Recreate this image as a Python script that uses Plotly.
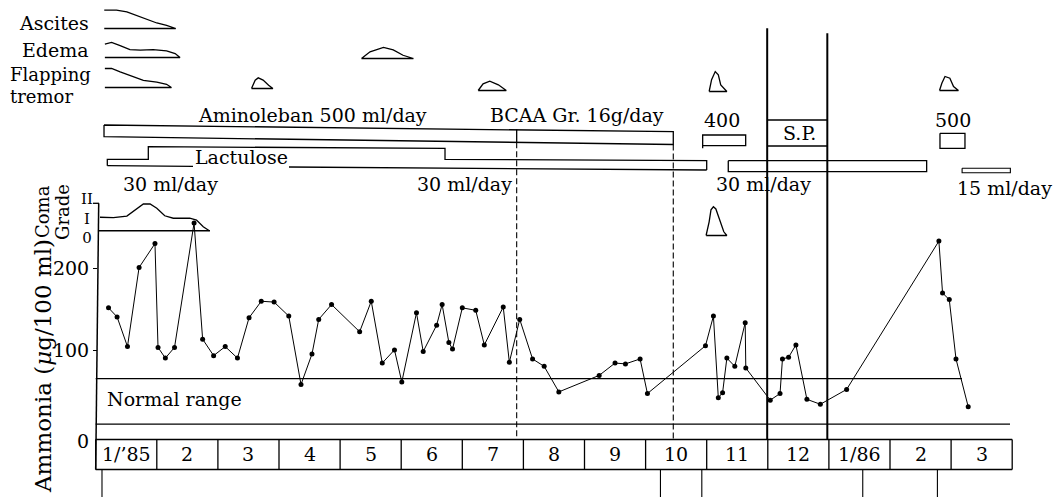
import plotly.graph_objects as go

# ---------------- data ----------------
month_labels = ["1/’85", "2", "3", "4", "5", "6", "7", "8", "9", "10", "11", "12", "1/86", "2", "3"]

# blood ammonia (ug/100 ml); x in months from Jan 1985
amm_month = [0.21, 0.35, 0.52, 0.71, 0.97, 1.02, 1.14, 1.29, 1.61, 1.75, 1.93, 2.12, 2.32, 2.51, 2.71,
             2.92, 3.16, 3.36, 3.54, 3.65, 3.86, 4.32, 4.51, 4.69, 4.89, 5.01, 5.25, 5.36, 5.58, 5.67,
             5.78, 5.84, 6.00, 6.22, 6.36, 6.67, 6.77, 6.94, 7.15, 7.34, 7.58, 8.24, 8.50, 8.67, 8.91,
             9.03, 9.98, 10.11, 10.19, 10.26, 10.33, 10.46, 10.63, 10.64, 11.04, 11.20, 11.24, 11.34,
             11.46, 11.64, 11.86, 12.29, 13.80, 13.86, 13.97, 14.08, 14.28]
amm_value = [152, 141, 105, 201, 230, 104, 91, 104, 255, 114, 94, 105, 91, 140, 160,
             159, 142, 59, 96, 138, 156, 123, 160, 85, 101, 62, 146, 99, 131, 156,
             110, 102, 152, 149, 107, 153, 86, 138, 90, 81, 50, 70, 85, 84, 90,
             48, 106, 142, 43, 49, 91, 81, 134, 79, 40, 48, 90, 92,
             107, 41, 35, 53, 233, 170, 162, 90, 32]
normal_range = [11, 66]
amm_ticks = [100, 200]

# coma grade (0, I, II)
coma1_month = [0.07, 0.29, 0.51, 0.67, 0.78, 0.89, 1.00, 1.13, 1.27, 1.54, 1.65, 1.76, 1.86]
coma1_grade = [0.98, 0.95, 1.07, 1.56, 1.95, 1.95, 1.64, 1.09, 0.91, 0.91, 0.78, 0.29, 0.0]
coma2_month = [9.99, 10.04, 10.07, 10.11, 10.15, 10.19, 10.23, 10.28, 10.33]
coma2_grade = [0.0, 1.0, 1.87, 2.1, 1.94, 1.43, 0.78, 0.27, 0.0]
grade_labels = ["II", "I", "0"]

# symptom severity (relative, 0-1)
ascites_month = [0.14, 0.34, 0.51, 0.67, 0.84, 1.00, 1.16, 1.31]
ascites_sev = [0.97, 0.97, 0.88, 0.70, 0.49, 0.29, 0.17, 0.0]
edema1_month = [0.15, 0.26, 0.40, 0.56, 0.73, 0.94, 1.16, 1.30, 1.38]
edema1_sev = [0.71, 0.79, 0.62, 0.41, 0.39, 0.41, 0.35, 0.21, 0.0]
edema2_month = [4.35, 4.49, 4.71, 4.87, 5.03, 5.20]
edema2_sev = [0.0, 0.35, 0.58, 0.45, 0.17, 0.0]
tremor1_month = [0.15, 0.26, 0.40, 0.61, 0.78, 1.00, 1.16, 1.24]
tremor1_sev = [1.0, 1.0, 0.82, 0.56, 0.38, 0.28, 0.17, 0.0]
tremor2_month = [2.55, 2.61, 2.66, 2.74, 2.83, 2.90]
tremor2_sev = [0.0, 0.44, 0.56, 0.44, 0.17, 0.0]
tremor3_month = [6.26, 6.34, 6.45, 6.59, 6.72]
tremor3_sev = [0.0, 0.35, 0.49, 0.30, 0.0]
tremor4_month = [10.04, 10.08, 10.14, 10.19, 10.23, 10.33]
tremor4_sev = [0.0, 0.62, 1.05, 0.88, 0.35, 0.0]
tremor5_month = [13.81, 13.85, 13.90, 13.98, 14.04, 14.12]
tremor5_sev = [0.0, 0.39, 0.74, 0.65, 0.21, 0.0]

# treatment periods (months)
aminoleban_period = [0.136, 6.89]
bcaa_period = [6.89, 9.453]
lactulose_low1 = [0.19, 0.861]
lactulose_high = [0.861, 5.717]
lactulose_low2 = [5.717, 10.0]
lactulose_low3 = [10.353, 13.6]
lactulose_15 = [14.18, 14.97]
aminoleban_400 = [9.934, 10.638]
aminoleban_500 = [13.818, 14.227]
sp_period = [10.99, 11.974]
lower_marks = [0.103, 9.243, 9.92, 12.554, 13.776]

# ---------------- layout helpers ----------------
W, H = 1064, 497
X0, PPM = 95.7, 61.1          # pixel of month 0, pixels per month
V_PX0, PPV = 433.1, 0.824     # pixel of ammonia 0, pixels per unit
G_PX0, PPG = 230.7, 13.7      # pixel of coma grade 0, pixels per grade
SERIF = "DejaVu Serif"
K = "black"


def mx(px):
    return (px - X0) / PPM


fig = go.Figure()


def seg(x0, y0, x1, y1, yref="y3", width=1.3, dash=None):
    fig.add_shape(type="line", xref="x", yref=yref, x0=x0, y0=y0, x1=x1, y1=y1,
                  line=dict(color=K, width=width, dash=dash))


def poly(xs, ys, yaxis="y3", width=1.3):
    fig.add_trace(go.Scatter(x=xs, y=ys, yaxis=yaxis, mode="lines",
                             line=dict(color=K, width=width), hoverinfo="skip"))


def text(s, x_px, y_px, size=19, xanchor="center", angle=0, align="center"):
    fig.add_annotation(x=x_px / W, xref="paper", y=y_px, yref="y3", text=s, showarrow=False,
                       font=dict(family=SERIF, size=size, color=K), xanchor=xanchor,
                       yanchor="middle", textangle=angle, align=align)


# ---------------- symptoms ----------------
ROW_H = 19
for base, (ms, sv) in [(28.5, (ascites_month, ascites_sev)),
                       (57.5, (edema1_month, edema1_sev)),
                       (58.5, (edema2_month, edema2_sev)),
                       (87.5, (tremor1_month, tremor1_sev)),
                       (88.5, (tremor2_month, tremor2_sev)),
                       (90.5, (tremor3_month, tremor3_sev)),
                       (91.5, (tremor4_month, tremor4_sev)),
                       (90.5, (tremor5_month, tremor5_sev))]:
    ys = [base - v * ROW_H for v in sv]
    poly(list(ms) + [ms[0]], ys + [base])

text("Ascites", 91, 23, xanchor="right")
text("Edema", 91, 50, xanchor="right")
text("Flapping", 8, 74.5, size=18, xanchor="left")
text("tremor", 8, 96, size=18, xanchor="left")

# ---------------- treatments ----------------
a0, a1 = aminoleban_period
b1 = bcaa_period[1]
poly([a0, b1, b1, a0, a0], [125, 131.7, 144.5, 136.7, 125])
seg(bcaa_period[0], 129.5, bcaa_period[0], 142.2)
text("Aminoleban 500 ml/day", 312.5, 115)
text("BCAA Gr. 16g/day", 577, 115)

# lactulose
l0 = lactulose_low1[0]
l1 = lactulose_high[0]
l2 = lactulose_high[1]
l3 = lactulose_low2[1]
poly([l0, l0, l1, l1, l2, l2, l3, l3], [165.7, 159.3, 159.3, 146.7, 148.3, 159.3, 160.7, 170])
gap0, gap1 = mx(193), mx(289)


def bot(x):
    return 165.7 + (170 - 165.7) * (x - l0) / (l3 - l0)


seg(l0, 165.7, gap0, bot(gap0))
seg(gap1, bot(gap1), l3, 170)
text("Lactulose", 241, 157)
c0, c1 = lactulose_low3
poly([c0, c1, c1, c0, c0], [160.7, 160.7, 171.7, 171.7, 160.7])
d0, d1 = lactulose_15
poly([d0, d1, d1, d0, d0], [168.3, 168.3, 172.7, 172.7, 168.3], width=1.1)
text("30 ml/day", 170, 184)
text("30 ml/day", 464, 184)
text("30 ml/day", 763, 184)
text("15 ml/day", 1004, 188)

e0, e1 = aminoleban_400
poly([e0, e0, e1, e1, e0], [148.3, 135, 135, 145.7, 145.7])
text("400", 722, 120)
f0, f1 = aminoleban_500
poly([f0, f1, f1, f0, f0], [133.3, 133.3, 148.3, 148.3, 133.3])
text("500", 953, 120)

# S.P.
s0, s1 = sp_period
seg(s0, 28.3, s0, 440, width=2)
seg(s1, 33.3, s1, 440, width=2)
seg(s0, 120, s1, 120)
seg(s0, 146, s1, 146)
text("S.P.", 799, 133)

# dashed guides (BCAA period)
seg(bcaa_period[0], 142.2, bcaa_period[0], 439.5, width=1.1, dash="6px,3px")
seg(bcaa_period[1], 144.5, bcaa_period[1], 439.5, width=1.1, dash="6px,3px")

# ---------------- coma grade ----------------
seg(mx(98.7), 203.3, mx(95.7), 469.5, width=1.5)       # vertical axis
seg(mx(93), 203.3, mx(99), 203.3, width=1.3)
seg(mx(98.7), 0, mx(210), 0, yref="y2", width=1.5)      # grade 0 line
poly(coma1_month, coma1_grade, yaxis="y2")
COMA2_BASE = -0.35
poly(coma2_month + [coma2_month[0]], [g + COMA2_BASE for g in coma2_grade] + [COMA2_BASE], yaxis="y2")
text("<br>".join(grade_labels), 87, 218, size=15)
text("Coma", 42, 212, size=18, angle=-90)
text("Grade", 62, 212, size=18, angle=-90)

# ---------------- ammonia ----------------
seg(0, normal_range[1], mx(962), normal_range[1], yref="y", width=1.3)
seg(0, normal_range[0], mx(1010), normal_range[0], yref="y", width=1.3)
text("Normal range", 105, 399, xanchor="left")
fig.add_trace(go.Scatter(x=amm_month, y=amm_value, mode="lines+markers",
                         line=dict(color=K, width=1), marker=dict(color=K, size=5),
                         hoverinfo="skip"))
text("0", 91, 441, xanchor="right")
text("Ammonia (<i>μ</i>g/100 ml)", 43, 366, size=23, angle=-90)

# ---------------- month boxes ----------------
n = len(month_labels)
seg(0, 439.5, n, 439.5, width=1.5)
seg(0, 469.5, n, 469.5, width=1.5)
for i in range(n + 1):
    seg(i, 439.5, i, 469.5, width=1.3)
for i, lab in enumerate(month_labels):
    fig.add_annotation(x=i + 0.5, xref="x", y=453.5, yref="y3", text=lab, showarrow=False,
                       font=dict(family=SERIF, size=19, color=K))
for m in lower_marks:
    seg(m, 469.5, m, 497, width=1.1)

# ---------------- axes ----------------
fig.update_layout(
    width=W, height=H, margin=dict(l=0, r=0, t=0, b=0),
    paper_bgcolor="white", plot_bgcolor="white", showlegend=False,
    xaxis=dict(range=[mx(0), mx(W)], visible=False, fixedrange=True),
    yaxis=dict(range=[(V_PX0 - H) / PPV, V_PX0 / PPV], anchor="free", position=97 / W,
               showgrid=False, zeroline=False, showline=False, tickvals=amm_ticks,
               ticks="outside", ticklen=4, tickcolor=K, tickwidth=1.3,
               tickfont=dict(family=SERIF, size=19, color=K), fixedrange=True),
    yaxis2=dict(range=[(G_PX0 - H) / PPG, G_PX0 / PPG], overlaying="y", visible=False,
                fixedrange=True),
    yaxis3=dict(range=[H, 0], overlaying="y", visible=False, fixedrange=True),
)

fig.write_html("out.html", config={"displayModeBar": False},
               post_script="document.body.style.margin='0';document.body.style.overflow='hidden';")
